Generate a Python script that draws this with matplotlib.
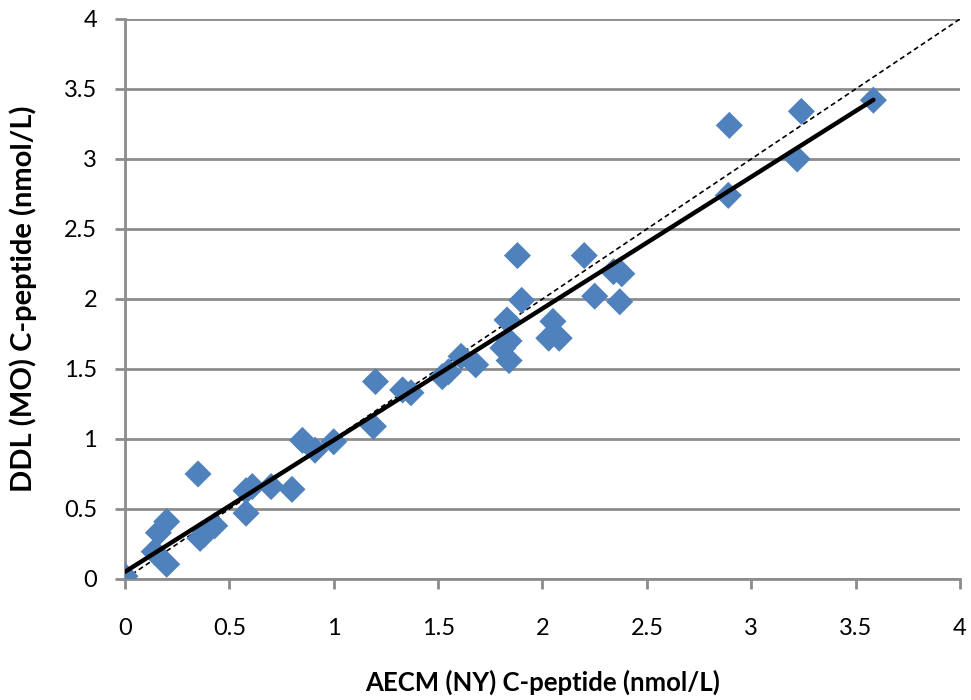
import matplotlib.pyplot as plt
import numpy as np

# AECM (NY) vs DDL (MO) C-peptide values
aecm = [0.0, 0.20, 0.14, 0.16, 0.20, 0.35, 0.36, 0.38, 0.43, 0.58, 0.58, 0.61,
        0.70, 0.80, 0.85, 0.91, 1.00, 1.19, 1.20, 1.33, 1.37, 1.52, 1.55, 1.61,
        1.68, 1.81, 1.83, 1.84, 1.84, 1.88, 1.90, 2.03, 2.05, 2.08, 2.20, 2.25,
        2.34, 2.38, 2.37, 2.89, 2.895, 3.22, 3.24, 3.585]
ddl = [0.02, 0.105, 0.195, 0.33, 0.41, 0.75, 0.29, 0.32, 0.38, 0.47, 0.63, 0.66,
       0.66, 0.64, 0.99, 0.92, 0.98, 1.09, 1.41, 1.35, 1.33, 1.445, 1.48, 1.59,
       1.53, 1.65, 1.85, 1.70, 1.56, 2.31, 1.99, 1.72, 1.84, 1.72, 2.31, 2.02,
       2.195, 2.18, 1.98, 2.74, 3.24, 3.00, 3.34, 3.42]

ticks = [0, 0.5, 1, 1.5, 2, 2.5, 3, 3.5, 4]
tick_labels = ['0', '0.5', '1', '1.5', '2', '2.5', '3', '3.5', '4']

plt.rcParams['font.family'] = ['Lato', 'DejaVu Sans']

fig = plt.figure(figsize=(9.71, 7.0), dpi=100)
ax = fig.add_axes([0.1287, 0.1729, 0.86, 0.80])

grid_c = '#8c8c8c'

# identity line
ax.plot([0, 4], [0, 4], color='black', linestyle=(0, (3, 2)), linewidth=1.2, zorder=2)

ax.scatter(aecm, ddl, marker='D', s=190, color='#4f81bd', edgecolors='none', zorder=3)

# linear fit
slope, intercept = np.polyfit(aecm, ddl, 1)
xs = np.array([0, max(aecm)])
ax.plot(xs, slope * xs + intercept, color='black', linewidth=3.2,
        solid_capstyle='round', zorder=4)

ax.set_xlim(0, 4)
ax.set_ylim(0, 4)
ax.set_xticks(ticks)
ax.set_xticklabels(tick_labels)
ax.set_yticks(ticks)
ax.set_yticklabels(tick_labels)

ax.yaxis.grid(True, color=grid_c, linewidth=2)
ax.set_axisbelow(True)
for side in ['top', 'right']:
    ax.spines[side].set_visible(False)
for side in ['left', 'bottom']:
    ax.spines[side].set_color(grid_c)
    ax.spines[side].set_linewidth(2)
ax.tick_params(axis='both', colors=grid_c, width=2, length=7, labelsize=17,
               labelcolor='black')
ax.tick_params(axis='x', pad=21)
ax.tick_params(axis='y', pad=13)

ax.set_xlabel('AECM (NY) C-peptide (nmol/L)', fontsize=18.5, fontweight='bold')
ax.set_ylabel('DDL (MO) C-peptide (nmol/L)', fontsize=21, fontweight='bold')
ax.xaxis.set_label_coords(0.5, -0.1625)
ax.yaxis.set_label_coords(-0.105, 0.5)

fig.savefig('out.png', dpi=100)
